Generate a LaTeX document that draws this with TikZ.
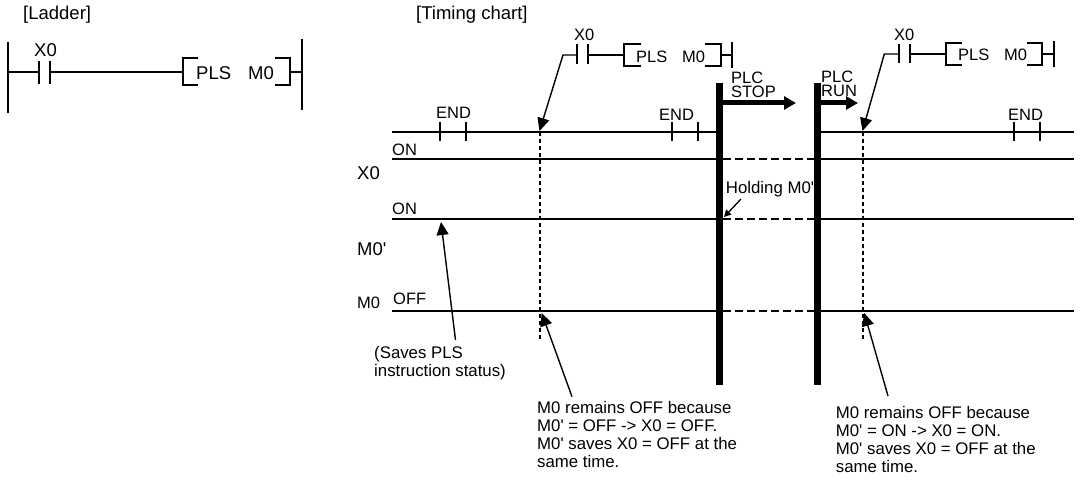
\documentclass[tikz,border=0pt]{standalone}
\usepackage{fontspec}
\setmainfont[Ligatures=TeXOff]{Liberation Sans}
\usetikzlibrary{
    arrows.meta,
    positioning
}
\tikzstyle{label} = [
    anchor=west,
    inner sep=0pt,
    align=left,
    font=\fontsize{16.5}{18}\selectfont
]
\tikzstyle{note} = [
    label,
    font=\fontsize{16.8}{18}\selectfont
]
\tikzstyle{plclabel} = [
    label,
    font=\fontsize{16.5}{14}\selectfont
]
\tikzstyle{biglabel} = [
    anchor=west,
    inner sep=0pt,
    font=\fontsize{18.5}{20}\selectfont
]
\tikzstyle{wire} = [
    line width=1.5pt
]
\tikzstyle{signal} = [
    line width=1.5pt
]
\tikzstyle{held} = [
    line width=1.3pt,
    dash pattern=on 8pt off 4pt
]
\tikzstyle{scan} = [
    line width=2pt,
    dash pattern=on 4pt off 3pt
]
\tikzstyle{stopbar} = [
    line width=7pt
]
\tikzstyle{pointer} = [
    -{Triangle[length=13pt,width=12pt]},
    line width=1.4pt
]
\tikzstyle{smallpointer} = [
    -{Triangle[length=7pt,width=7pt]},
    line width=1.3pt
]
\tikzstyle{runarrow} = [
    -{Triangle[length=12pt,width=13pt]},
    line width=5pt
]

\begin{document}
\begin{tikzpicture}[x=1pt, y=-1pt]
    \useasboundingbox (0,0) rectangle (1080,484);

    % Ladder
    \node[biglabel] (ladder) at (23,15) {[Ladder]};
    \node[biglabel] (ladderx) at (34,50) {X0};
    \node[biglabel] (ladderpls) at (196,73) {PLS};
    \node[biglabel] (ladderm) at (248,73) {M0};
    \draw[wire] (8,42) -- (8,113);
    \draw[wire] (302,39) -- (302,110);
    \draw[wire] (8,72) -- (39,72);
    \draw[wire] (39,61) -- (39,84);
    \draw[wire] (50,61) -- (50,84);
    \draw[wire] (50,72) -- (183,72);
    \draw[wire] (198,58) -- (183,58) -- (183,85) -- (198,85);
    \draw[wire] (275,58) -- (290,58) -- (290,85) -- (275,85);
    \draw[wire] (290,72) -- (302,72);

    % Timing chart
    \node[biglabel] (chart) at (416,15) {[Timing chart]};
    \node[biglabel] (xlabel) at (357,173) {X0};
    \node[biglabel] (mdash) at (357,249) {M0'};
    \node[label] (mlabel) at (357,303) {M0};
    \node[label] (xon) at (392,150) {ON};
    \node[label] (mon) at (392,209) {ON};
    \node[label] (moff) at (393,299) {OFF};

    \draw[signal] (392,132) -- (719,132);
    \draw[signal] (814,132) -- (1074,132);
    \draw[signal] (392,159) -- (719,159);
    \draw[signal] (818,159) -- (1074,159);
    \draw[signal] (392,219) -- (719,219);
    \draw[signal] (818,219) -- (1074,219);
    \draw[signal] (392,311) -- (719,311);
    \draw[signal] (818,311) -- (1074,311);
    \draw[held] (723,159) -- (814,159);
    \draw[held] (723,219) -- (814,219);
    \draw[held] (723,311) -- (814,311);
    \draw[scan] (539.5,132) -- (539.5,339);
    \draw[scan] (862.5,132) -- (862.5,339);

    % END marks
    \node[label] (enda) at (436,113) {END};
    \node[label] (endb) at (659,115) {END};
    \node[label] (endc) at (1008,115) {END};
    \draw[wire] (440,122) -- (440,141);
    \draw[wire] (466,122) -- (466,141);
    \draw[wire] (672,122) -- (672,141);
    \draw[wire] (698,122) -- (698,141);
    \draw[wire] (1014,122) -- (1014,141);
    \draw[wire] (1040,122) -- (1040,141);

    % Stop and run
    \draw[stopbar] (719,83) -- (719,385);
    \draw[stopbar] (817.7,83) -- (817.7,385);
    \node[plclabel] (stopl) at (731,85) {PLC\\STOP};
    \node[plclabel] (runl) at (821,84) {PLC\\RUN};
    \draw[runarrow] (722,103) -- (796,103);
    \draw[runarrow] (814,103) -- (858,103);

    % First rung
    \node[label] (xa) at (574,35) {X0};
    \node[label] (plsa) at (636,57) {PLS};
    \node[label] (ma) at (682,57) {M0};
    \coordinate (taila) at (563,55);
    \coordinate (tipa) at (539.5,131);
    \draw[pointer] (577,55) -- (taila) -- (tipa);
    \draw[wire] (577,44) -- (577,64);
    \draw[wire] (588,44) -- (588,64);
    \draw[wire] (588,55) -- (624,55);
    \draw[wire] (641,44) -- (624,44) -- (624,66) -- (641,66);
    \draw[wire] (705,44) -- (721,44) -- (721,66) -- (705,66);
    \draw[wire] (721,55) -- (732,55);
    \draw[wire] (732,42) -- (732,68);

    % Second rung
    \node[label] (xb) at (894,35) {X0};
    \node[label] (plsb) at (958,55) {PLS};
    \node[label] (mb) at (1004,55) {M0};
    \coordinate (tailb) at (884.3,54);
    \coordinate (tipb) at (862.5,131);
    \draw[pointer] (899,54) -- (tailb) -- (tipb);
    \draw[wire] (899,44) -- (899,63);
    \draw[wire] (910,44) -- (910,63);
    \draw[wire] (910,54) -- (946,54);
    \draw[wire] (962,43) -- (946,43) -- (946,65) -- (962,65);
    \draw[wire] (1027,43) -- (1042,43) -- (1042,65) -- (1027,65);
    \draw[wire] (1042,54) -- (1054,54);
    \draw[wire] (1054,41) -- (1054,67);

    % Notes
    \node[note] (holding) at (725.7,188.7) {Holding M0'};
    \coordinate (holdtail) at (741,199);
    \coordinate (holdtip) at (724,217);
    \draw[smallpointer] (holdtail) -- (holdtip);

    \node[note] (saves) at (374,363) {(Saves PLS\\instruction status)};
    \coordinate (savestail) at (455.5,340);
    \coordinate (savestip) at (441,222);
    \draw[pointer] (savestail) -- (savestip);

    \node[note] (notea) at (537,434) {M0 remains OFF because\\M0' = OFF -> X0 = OFF.\\M0' saves X0 = OFF at the\\same time.};
    \coordinate (noteatail) at (572,396.7);
    \coordinate (noteatip) at (541.7,313);
    \draw[pointer] (noteatail) -- (noteatip);

    \node[note] (noteb) at (835.7,439.5) {M0 remains OFF because\\M0' = ON -> X0 = ON.\\M0' saves X0 = OFF at the\\same time.};
    \coordinate (notebtail) at (888,396);
    \coordinate (notebtip) at (864.3,313);
    \draw[pointer] (notebtail) -- (notebtip);
\end{tikzpicture}
\end{document}
